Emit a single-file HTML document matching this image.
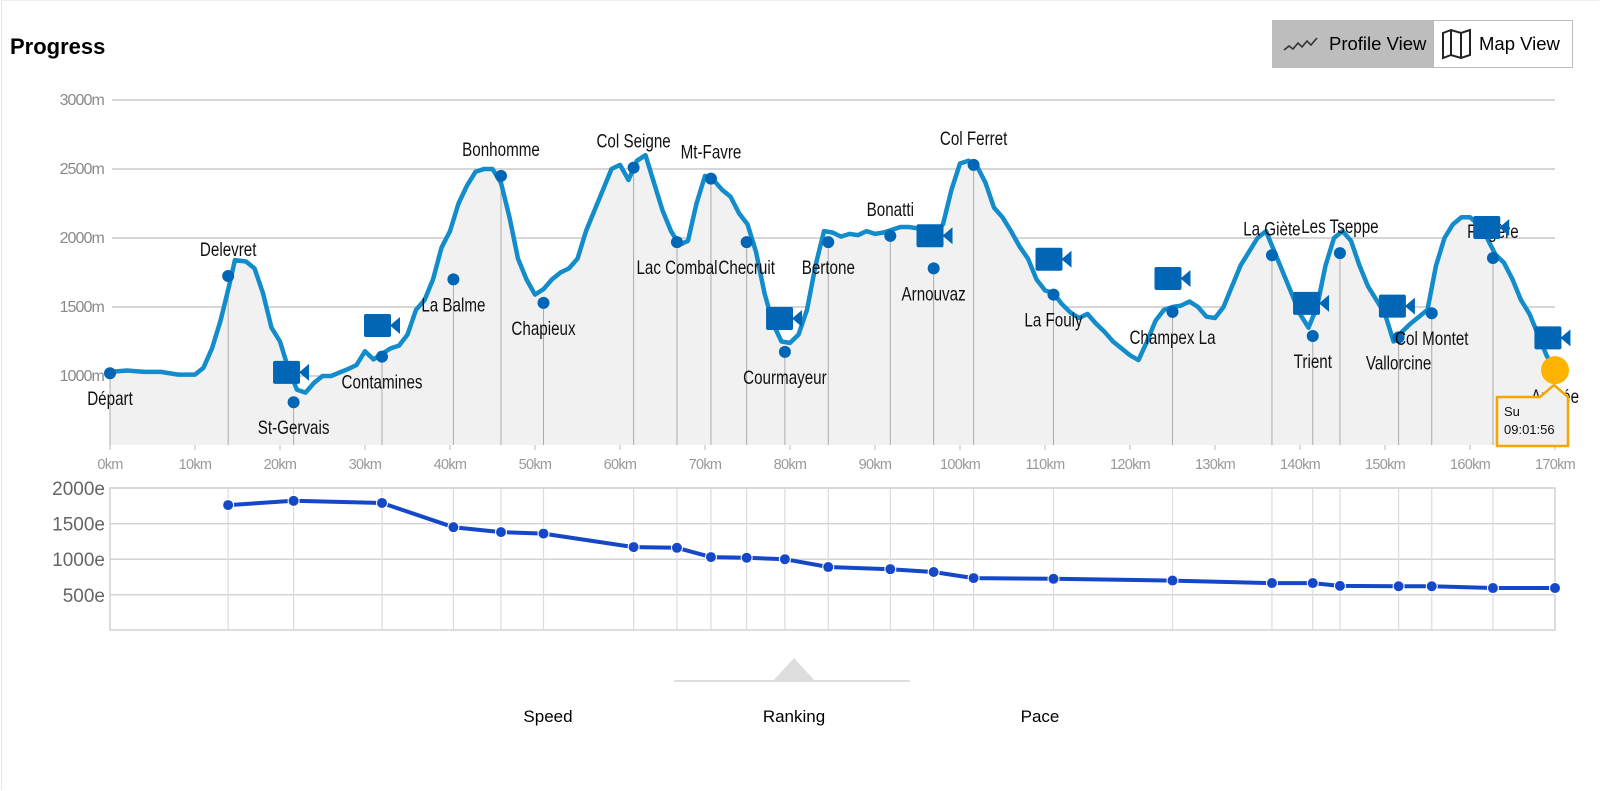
<!DOCTYPE html>
<html><head><meta charset="utf-8"><style>
html,body{margin:0;padding:0;background:#fff;}
body{width:1600px;height:791px;position:relative;overflow:hidden;font-family:"Liberation Sans",sans-serif;}
#frame{position:absolute;left:1px;top:0;width:1597px;height:789px;border-left:1px solid #e6e6e6;border-top:1px solid #eee;}
#title{position:absolute;left:10px;top:34px;font-size:22px;font-weight:bold;color:#000;}
.tog{position:absolute;top:20px;height:48px;box-sizing:border-box;border:1px solid #bbb;font-size:18.5px;display:flex;align-items:center;}
#profile-btn{left:1272px;width:162px;background:#bdbdbd;}
#map-btn{left:1433px;width:140px;background:#fff;}
svg{position:absolute;left:0;top:0;}
.nav{position:absolute;top:707px;font-size:17px;color:#000;transform:translateX(-50%);}
</style></head><body>
<div id="frame"></div>
<div id="title">Progress</div>
<div class="tog" id="profile-btn">
 <svg width="40" height="20" style="position:relative;margin-left:10px"><polyline points="1,16 6,12 10,15 15,9 19,13 24,7 28,11 34,4" fill="none" stroke="#333" stroke-width="1.6"/></svg>
 <span style="margin-left:6px">Profile View</span></div>
<div class="tog" id="map-btn">
 <svg width="34" height="34" style="position:relative;margin-left:6px"><path d="M3,6 L11,3 L21,6 L30,3 L30,28 L21,31 L11,28 L3,31 Z M11,3 L11,28 M21,6 L21,31" fill="none" stroke="#222" stroke-width="2"/></svg>
 <span style="margin-left:5px">Map View</span></div>
<svg id="chart" width="1600" height="791"></svg>
<div class="nav" style="left:548px">Speed</div>
<div class="nav" style="left:794px">Ranking</div>
<div class="nav" style="left:1040px">Pace</div>
<script>
const profileKm=[0,2,4,6,8,10,11,12,13,14,14.7,16,17,18,19,20,21,22,23,24,25,26,28,29,30,31,32,33,34,35,36,37,38,39,40,41,42,43,44,45,46,47,48,49,50,51,52,53,54,55,56,57,58,59,60,61,62,63,64,65,66,67,68,69,70,71,72,73,74,75,76,77,78,79,80,81,82,83,84,85,86,87,88,89,90,91,92,93,94,95,96,97,98,99,100,101,102,103,104,105,106,107,108,109,110,111,112,113,114,115,116,117,118,119,120,121,122,123,124,125,126,127,128,129,130,131,132,133,134,135,136,137,138,139,140,141,142,143,144,145,146,147,148,149,150,151,152,153,154,155,156,157,158,159,160,161,162,163,164,165,166,167,168,169,170];
const profileElev=[1030,1040,1030,1030,1010,1010,1060,1200,1400,1650,1840,1830,1780,1600,1350,1250,1050,900,880,950,1000,1000,1050,1080,1180,1120,1160,1200,1220,1300,1480,1550,1700,1930,2050,2250,2380,2480,2500,2500,2400,2150,1850,1700,1590,1630,1700,1750,1780,1850,2050,2200,2350,2500,2530,2420,2560,2600,2400,2200,2050,1950,1980,2250,2450,2420,2350,2300,2180,2100,1900,1600,1380,1250,1240,1300,1480,1800,2050,2040,2010,2030,2020,2050,2030,2040,2060,2080,2080,2070,2040,2030,2100,2350,2540,2560,2520,2400,2220,2150,2050,1940,1850,1700,1620,1600,1520,1460,1420,1450,1380,1320,1250,1200,1150,1115,1250,1400,1480,1500,1510,1540,1500,1430,1420,1500,1650,1800,1900,2000,2050,1900,1750,1600,1450,1350,1500,1800,2000,2050,1980,1800,1650,1550,1450,1250,1320,1380,1430,1480,1800,2000,2100,2150,2150,2100,2000,1880,1820,1700,1550,1450,1300,1150,1040];
const cpNames=["Départ","Delevret","St-Gervais","Contamines","La Balme","Bonhomme","Chapieux","Col Seigne","Lac Combal","Mt-Favre","Checruit","Courmayeur","Bertone","Bonatti","Arnouvaz","Col Ferret","La Fouly","Champex La","La Giète","Trient","Les Tseppe","Vallorcine","Col Montet","Flégère","Arrivée"];
const cpKm=[0,13.9,21.6,32,40.4,46,51,61.6,66.7,70.7,74.9,79.4,84.5,91.8,96.9,101.6,111,125,136.7,141.5,144.7,151.6,155.5,162.7,170];
const cpElev=[1020,1725,810,1140,1700,2450,1530,2510,1970,2430,1970,1175,1970,2015,1780,2530,1590,1465,1875,1290,1890,1280,1455,1855,1035];
const cpLabelSide=["b","a","b","b","b","a","b","a","b","a","b","b","b","a","b","a","b","b","a","b","a","b","b","a","b"];
const rankValues=[null,1760,1820,1790,1450,1380,1360,1170,1160,1030,1020,1000,890,860,820,735,725,700,665,665,625,620,620,595,595];
const camKm=[21.3,32,79.3,97,111,125,141.3,151.4,162.5,169.7];
const camElev=[1030,1370,1420,2020,1850,1710,1530,1510,2080,1280];
const elevTicks=[1000,1500,2000,2500,3000];
const kmTicks=[0,10,20,30,40,50,60,70,80,90,100,110,120,130,140,150,160,170];
const rankTicks=[500,1000,1500,2000];

const NS="http://www.w3.org/2000/svg";
const svg=document.getElementById('chart');
const X0=110,X1=1555;
const xs=k=>X0+(X1-X0)*k/170;
const ys=e=>376-(e-1000)*69/500;
const BASE=445;
const yr=r=>488+(2000-r)*35.6/500;
function el(tag,attrs,parent,txt){const e=document.createElementNS(NS,tag);for(const k in attrs)e.setAttribute(k,attrs[k]);if(txt!==undefined)e.textContent=txt;(parent||svg).appendChild(e);return e;}

elevTicks.forEach(t=>{
 const g=el('line',{x1:112,x2:X1,y1:ys(t),y2:ys(t),stroke:'#c8c8c8','stroke-width':1.5});
 
 
 const l=el('text',{x:104,y:ys(t)+5,'text-anchor':'end','font-size':16,fill:'#8a8a8a','letter-spacing':'-0.9'},svg,t+'m');
 
 
});
let d='M'+xs(profileKm[0])+','+BASE;
profileKm.forEach((k,i)=>{d+=' L'+xs(k).toFixed(1)+','+ys(profileElev[i]).toFixed(1);});
d+=' L'+xs(170)+','+BASE+' Z';
const area=el('path',{d:d,fill:'#f1f1f1'});


cpKm.forEach((k,i)=>{
 const v=el('line',{x1:xs(k),x2:xs(k),y1:ys(cpElev[i]),y2:BASE,stroke:'#aaa','stroke-width':1});
 
 
});
let ld='';
profileKm.forEach((k,i)=>{ld+=(i?' L':'M')+xs(k).toFixed(1)+','+ys(profileElev[i]).toFixed(1);});
const pl=el('path',{d:ld,fill:'none',stroke:'#138ccb','stroke-width':4.5,'stroke-linejoin':'round'});


kmTicks.forEach(t=>{
 const tk=el('line',{x1:xs(t),x2:xs(t),y1:BASE,y2:BASE+5,stroke:'#bbb'});
 
 
 const tl=el('text',{x:xs(t),y:469,'text-anchor':'middle','font-size':14.5,fill:'#999','letter-spacing':'-0.7'},svg,t+'km');
 
 
});
cpKm.forEach((k,i)=>{
 if(i===cpKm.length-1)return;
 const c=el('circle',{cx:xs(k),cy:ys(cpElev[i]),r:6,fill:'#0066b5'});
 
 
});
cpKm.forEach((k,i)=>{
 const y=cpLabelSide[i]==='a'?ys(cpElev[i])-20:ys(cpElev[i])+32;
 const t=el('text',{x:0,y:0,transform:'translate('+xs(k).toFixed(1)+','+y.toFixed(1)+') scale(0.8,1)','text-anchor':'middle','font-size':19,fill:'#111'},svg,cpNames[i]);
 
 
});
camKm.forEach((k,i)=>{
 const cx=xs(k),cy=ys(camElev[i]);
 const g=el('g',{transform:'translate('+(cx-18)+','+(cy-11)+')'});
 
 
 el('rect',{x:0,y:0,width:27,height:23,rx:2,fill:'#0066b5'},g);
 el('polygon',{points:'26,11.5 36,3 36,20',fill:'#0066b5'},g);
});
const ax=xs(170),ay=ys(cpElev[24]);
const arr=el('circle',{cx:ax,cy:ay-1,r:14,fill:'#fdb300'});


const tip=el('g',{});


el('path',{d:'M1497,397 L1540,397 L1554,385 L1568,397 L1568,446 L1497,446 Z',fill:'#f1f1f1',stroke:'#f5a700','stroke-width':2.5},tip);
el('text',{x:1504,y:416,'font-size':13,fill:'#111'},tip,'Su');
el('text',{x:1504,y:434,'font-size':13,fill:'#111'},tip,'09:01:56');

const RB=630;
rankTicks.forEach(t=>{
 const g=el('line',{x1:X0,x2:X1,y1:yr(t),y2:yr(t),stroke:'#d4d4d4','stroke-width':1.5});
 
 
 const l=el('text',{x:105,y:yr(t)+7,'text-anchor':'end','font-size':19,fill:'#666'},svg,t+'e');
 
 
});
cpKm.forEach(k=>{
 const v=el('line',{x1:xs(k),x2:xs(k),y1:488,y2:RB,stroke:'#dcdcdc','stroke-width':1.2});
 
 
});
const fr=el('rect',{x:X0,y:488,width:X1-X0,height:RB-488,fill:'none',stroke:'#d4d4d4','stroke-width':1.5});


let rd='',first=true;
rankValues.forEach((r,i)=>{if(r===null)return;rd+=(first?'M':' L')+xs(cpKm[i]).toFixed(1)+','+yr(r).toFixed(1);first=false;});
const rl=el('path',{d:rd,fill:'none',stroke:'#1448c8','stroke-width':4,'stroke-linejoin':'round'});


rankValues.forEach((r,i)=>{if(r===null)return;
 const c=el('circle',{cx:xs(cpKm[i]),cy:yr(r),r:5.5,fill:'#1448c8',stroke:'#fff','stroke-width':1});
 
 
});
const nl=el('line',{x1:674,x2:910,y1:681,y2:681,stroke:'#ddd','stroke-width':2});


const nt=el('polygon',{points:'794,658 773,681 815,681',fill:'#ddd'});


</script>
</body></html>
